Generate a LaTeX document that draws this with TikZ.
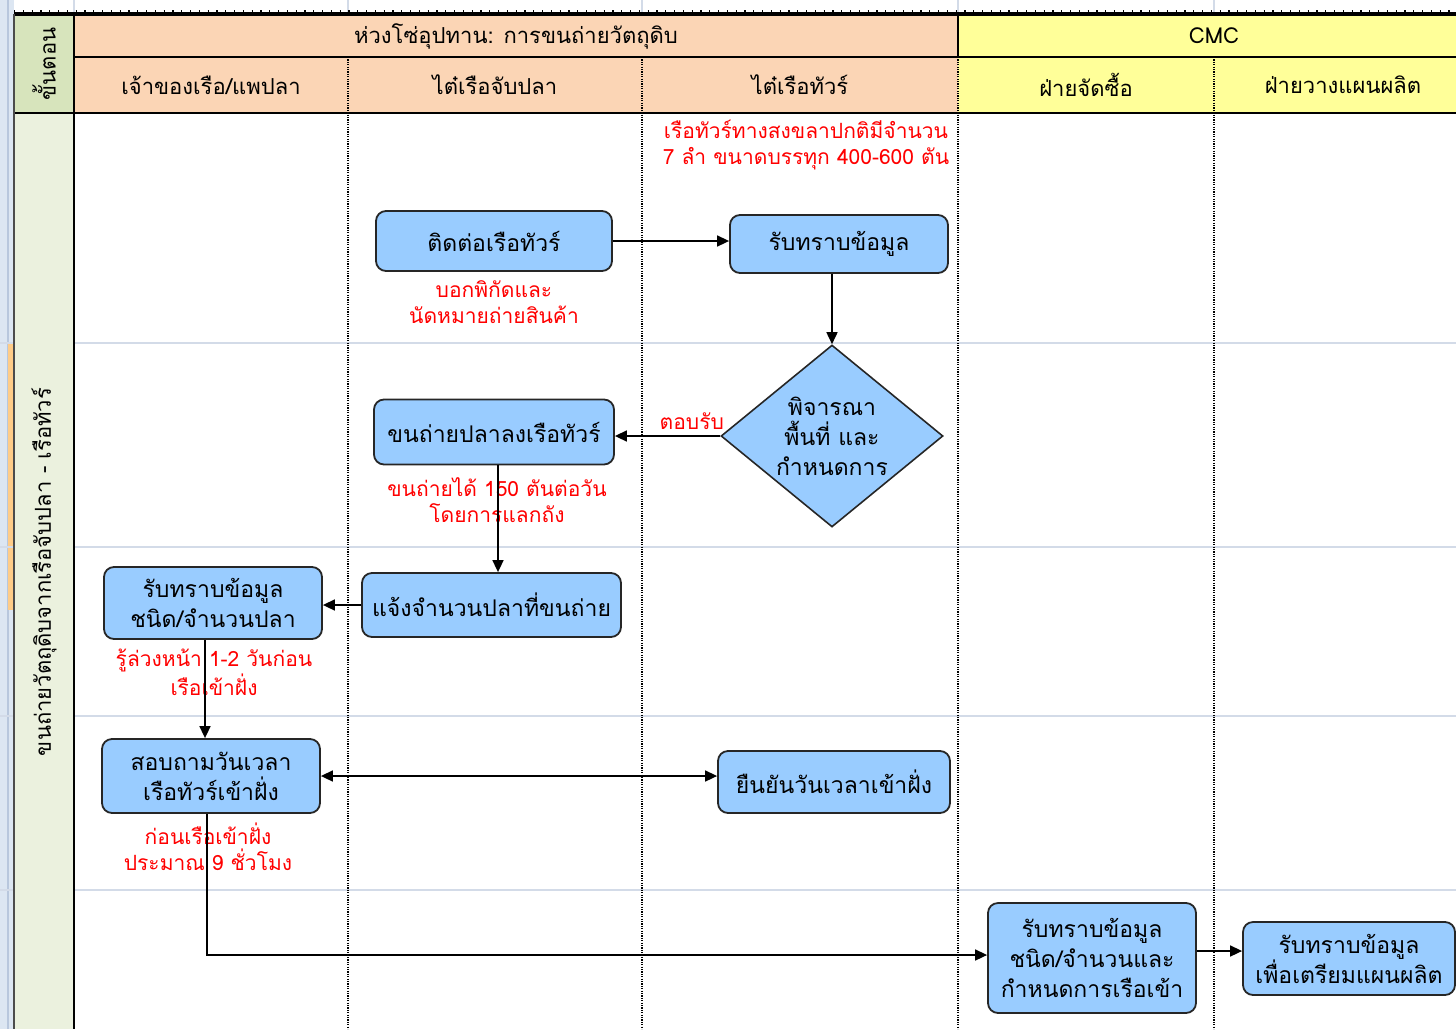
\documentclass[tikz,border=0pt]{standalone}
\usepackage{fontspec}
\setmainfont[Script=Thai]{Loma}
\usetikzlibrary{arrows.meta,shapes.geometric}
\definecolor{stripbg}{HTML}{DCE6F2}
\definecolor{stripline}{HTML}{B8C7DD}
\definecolor{orangeseg}{HTML}{FFCC88}
\definecolor{peach}{HTML}{FBD5B5}
\definecolor{hyellow}{HTML}{FFFF99}
\definecolor{greenhead}{HTML}{D7E4BC}
\definecolor{greenbody}{HTML}{EBF1DE}
\definecolor{boxblue}{HTML}{99CCFF}
\definecolor{gridl}{HTML}{D3DBE8}
\definecolor{notered}{HTML}{FF0000}
\tikzset{
  box/.style={rectangle, rounded corners=5pt, draw=black!85, line width=0.9pt, fill=boxblue, align=center, inner sep=0pt, font=\fontsize{11.5}{15}\selectfont},
  dbox/.style={diamond, draw=black!85, line width=0.8pt, fill=boxblue, inner sep=0pt},
  note/.style={text=notered, align=center, inner sep=0pt, font=\fontsize{10.5}{13}\selectfont},
  head/.style={inner sep=0pt, font=\fontsize{11}{13}\selectfont},
  flow/.style={line width=0.8pt, -{Triangle[length=6pt,width=5.5pt]}},
  dflow/.style={line width=0.8pt, {Triangle[length=6pt,width=5.5pt]}-{Triangle[length=6pt,width=5.5pt]}},
  lane/.style={line width=0.6pt, dash pattern=on 0.6pt off 0.6pt},
  grid/.style={gridl, line width=0.8pt}
}
\begin{document}
\begin{tikzpicture}[x=0.5pt,y=-0.5pt]
\useasboundingbox (0,0) rectangle (1456,1029);
% spreadsheet strip on the left
\fill[stripbg] (0,0) rectangle (14,1029);
\draw[stripline, line width=0.8pt] (8,0) -- (8,1029);
\fill[orangeseg] (8,344) rectangle (14,610);
% row grid lines
\foreach \yy in {343,547,716,890} {
  \draw[grid] (0,\yy) -- (1456,\yy);
}
\foreach \xx in {74,348,642,958,1214} {
  \draw[grid] (\xx,0) -- (\xx,12);
}
% header fills
\fill[greenhead] (14,14) rectangle (74,113);
\fill[greenbody] (14,113) rectangle (74,1029);
\fill[peach] (74,14) rectangle (958,113);
\fill[hyellow] (958,14) rectangle (1456,113);
% header lines
\draw[line width=1.6pt] (14,14) -- (1456,14);
\draw[line width=0.8pt, dash pattern=on 0.6pt off 3.8pt] (14,11) -- (1456,11);
\draw[line width=1pt] (74,57) -- (1456,57);
\draw[line width=1pt] (14,113) -- (1456,113);
\draw[line width=1pt] (958,14) -- (958,57);
\draw[line width=1.2pt] (74,14) -- (74,1029);
\draw[line width=0.6pt, black!70] (14,14) -- (14,1029);
% lane separators
\foreach \xx in {348,642,958,1214} {
  \draw[lane] (\xx,57) -- (\xx,1029);
}
% header texts
\node[head, rotate=90] (hstep) at (44,64) {ขั้นตอน};
\node[head] (hsc) at (516,36) {ห่วงโซ่อุปทาน: การขนถ่ายวัตถุดิบ};
\node[head] (hcmc) at (1214,36) {CMC};
\node[head] (h1) at (211,85) {เจ้าของเรือ/แพปลา};
\node[head] (h2) at (495,85) {ไต๋เรือจับปลา};
\node[head] (h3) at (800,85) {ไต๋เรือทัวร์};
\node[head] (h4) at (1086,85) {ฝ่ายจัดซื้อ};
\node[head] (h5) at (1343,85) {ฝ่ายวางแผนผลิต};
\node[head, rotate=90] (hrow) at (44,572) {ขนถ่ายวัตถุดิบจากเรือจับปลา - เรือทัวร์};
% process nodes
\node[box, minimum width=118pt, minimum height=30pt] (n1) at (494,241) {ติดต่อเรือทัวร์};
\node[box, minimum width=109pt, minimum height=29pt] (n2) at (839,244) {รับทราบข้อมูล};
\node[dbox, minimum width=111pt, minimum height=91pt,
      label={[align=center, inner sep=0pt, font=\fontsize{11.5}{15}\selectfont]center:พิจารณา\\พื้นที่ และ\\กำหนดการ}] (d) at (832,436) {};
\node[box, minimum width=120pt, minimum height=32.5pt] (n4) at (494,432) {ขนถ่ายปลาลงเรือทัวร์};
\node[box, minimum width=129.5pt, minimum height=32pt] (n5) at (491.5,605) {แจ้งจำนวนปลาที่ขนถ่าย};
\node[box, minimum width=109pt, minimum height=36pt] (n6) at (213,603) {รับทราบข้อมูล\\ชนิด/จำนวนปลา};
\node[box, minimum width=109pt, minimum height=37pt] (n7) at (211,776) {สอบถามวันเวลา\\เรือทัวร์เข้าฝั่ง};
\node[box, minimum width=116pt, minimum height=31pt] (n8) at (834,782) {ยืนยันวันเวลาเข้าฝั่ง};
\node[box, minimum width=104pt, minimum height=55pt] (n9) at (1092,958) {รับทราบข้อมูล\\ชนิด/จำนวนและ\\กำหนดการเรือเข้า};
\node[box, minimum width=106pt, minimum height=36.5pt] (n10) at (1349,958.5) {รับทราบข้อมูล\\เพื่อเตรียมแผนผลิต};
% notes
\node[note] (t1) at (806,145) {เรือทัวร์ทางสงขลาปกติมีจำนวน\\7 ลำ ขนาดบรรทุก 400-600 ตัน};
\node[note] (t2) at (494,302) {บอกพิกัดและ\\นัดหมายถ่ายสินค้า};
\node[note] (t4) at (497,500) {ขนถ่ายได้ 150 ตันต่อวัน\\โดยการแลกถัง};
\node[note] (t6) at (214,672) {รู้ล่วงหน้า 1-2 วันก่อน\\เรือเข้าฝั่ง};
\node[note] (t7) at (208,847) {ก่อนเรือเข้าฝั่ง\\ประมาณ 9 ชั่วโมง};
% connectors
\draw[flow] (n1.east) -- (n1.east -| n2.west);
\draw[flow] (d.north |- n2.south) -- (d.north);
\draw[flow] (d.west) -- node[note, pos=0.27, above, yshift=3pt] (lok) {ตอบรับ} (d.west -| n4.east);
\draw[flow] ([xshift=2pt]n4.south) -- ([xshift=2pt]n4.south |- n5.north);
\draw[flow] (n5.west) -- (n5.west -| n6.east);
\draw[flow] ([xshift=-4pt]n6.south) -- ([xshift=-4pt]n6.south |- n7.north);
\draw[dflow] (n7.east) -- (n7.east -| n8.west);
\draw[flow] ([xshift=-2pt]n7.south) |- ([yshift=1.5pt]n9.west);
\draw[flow] ([yshift=3.5pt]n9.east) -- ([yshift=3.5pt]n9.east -| n10.west);
\end{tikzpicture}
\end{document}
